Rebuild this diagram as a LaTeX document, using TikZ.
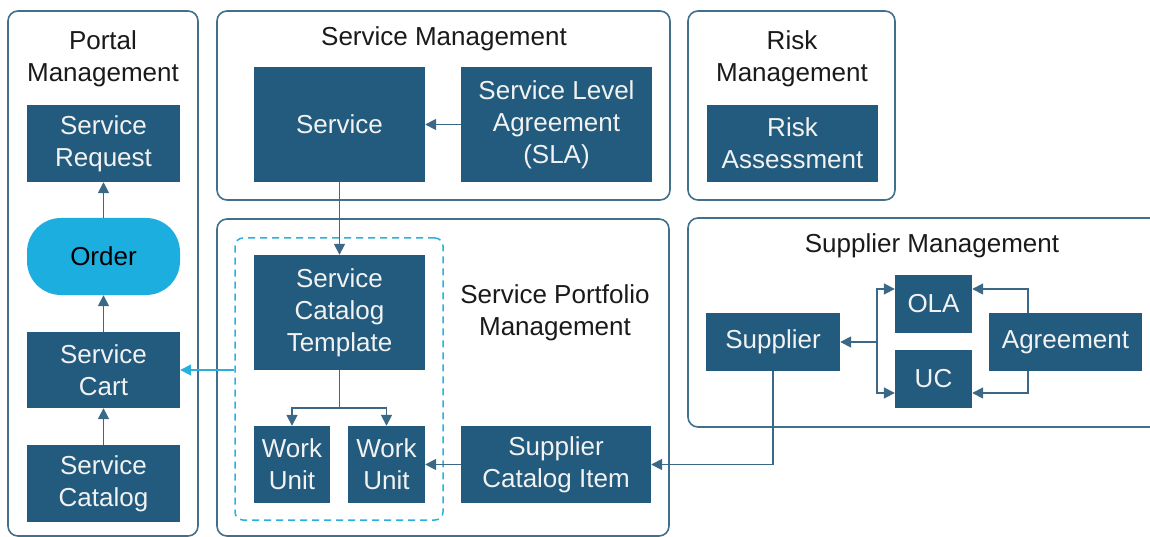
\documentclass[tikz,border=0pt]{standalone}
\usepackage{fontspec}
\setmainfont{Liberation Sans}
\usetikzlibrary{arrows.meta,calc}
\definecolor{boxblue}{HTML}{225B7D}
\definecolor{orderblue}{HTML}{1CAEDE}
\definecolor{contc}{HTML}{41708C}
\definecolor{arrc}{HTML}{3B6886}
\definecolor{dashc}{HTML}{2AB0E0}
\definecolor{titlec}{HTML}{1A1A1A}
\newcommand\dfont{\fontsize{26}{32}\selectfont}
\tikzset{
  box/.style={rectangle, fill=boxblue, text=white!95!black, inner sep=0pt, align=center, font=\dfont},
  ttl/.style={text=titlec, inner sep=0pt, align=center, font=\dfont},
  cont/.style={draw=contc, line width=1.6pt, rounded corners=10pt},
  arr/.style={draw=arrc, line width=1.7pt, -{Triangle[length=11pt,width=11pt]}},
  lblarr/.style={draw=dashc, line width=1.7pt, -{Triangle[length=11pt,width=11pt]}},
}
\begin{document}
\begin{tikzpicture}[x=1pt,y=-1pt]
\useasboundingbox (0,0) rectangle (1150,537);
\clip (0,0) rectangle (1150,537);
\fill[white] (0,0) rectangle (1150,537);
% containers
\draw[cont] (8,11) rectangle (198,536);
\draw[cont] (217,11) rectangle (670,200);
\draw[cont] (688,11) rectangle (895,200);
\draw[cont] (217,219) rectangle (669,536);
\draw[cont] (688,218) rectangle (1165,427);
% titles
\node[ttl] (tportal) at (103,59) {Portal\\Management};
\node[ttl] (tsm) at (444,39) {Service Management};
\node[ttl] (trm) at (792,59) {Risk\\Management};
\node[ttl] (tspm) at (555,313) {Service Portfolio\\Management};
\node[ttl] (tsupm) at (932,246) {Supplier Management};
% dashed group
\node[draw=dashc, line width=1.5pt, dash pattern=on 7pt off 5pt, rounded corners=8pt,
      minimum width=208pt, minimum height=282pt, inner sep=0pt] (grp) at (339,379) {};
% portal nodes
\node[box, minimum width=153pt, minimum height=77pt] (sr) at (103.5,143.5) {Service\\Request};
\node[box, fill=orderblue, text=black, rounded corners=34pt, minimum width=153pt, minimum height=77pt] (order) at (103.5,256.5) {Order};
\node[box, minimum width=153pt, minimum height=76pt] (cart) at (103.5,370) {Service\\Cart};
\node[box, minimum width=153pt, minimum height=77pt] (scat) at (103.5,483.5) {Service\\Catalog};
% service management
\node[box, minimum width=171pt, minimum height=115pt] (service) at (339.5,124.5) {Service};
\node[box, minimum width=191pt, minimum height=115pt] (sla) at (556.5,124.5) {Service Level\\Agreement\\(SLA)};
% risk
\node[box, minimum width=171pt, minimum height=77pt] (risk) at (792.5,143.5) {Risk\\Assessment};
% portfolio
\node[box, minimum width=171pt, minimum height=115pt] (tmpl) at (339.5,312.5) {Service\\Catalog\\Template};
\node[box, minimum width=76pt, minimum height=77pt] (wu1) at (292,464.5) {Work\\Unit};
\node[box, minimum width=77pt, minimum height=77pt] (wu2) at (386.5,464.5) {Work\\Unit};
\node[box, minimum width=190pt, minimum height=77pt] (sci) at (556,464.5) {Supplier\\Catalog Item};
% supplier management
\node[box, minimum width=134pt, minimum height=58pt] (sup) at (773,342) {Supplier};
\node[box, minimum width=77pt, minimum height=58pt] (ola) at (933.5,304) {OLA};
\node[box, minimum width=77pt, minimum height=58pt] (uc) at (933.5,379) {UC};
\node[box, minimum width=153pt, minimum height=58pt] (agr) at (1065.5,342) {Agreement};
% connectors
\coordinate (tj) at (339.5,408);
\coordinate (sj) at (877,342);
\draw[arr] (order.north) -- (sr.south);
\draw[arr] (cart.north) -- (order.south);
\draw[arr] (scat.north) -- (cart.south);
\draw[arr] (sla.west) -- (service.east);
\draw[arr] (service.south) -- (tmpl.north);
\draw[draw=arrc, line width=1.7pt] (tmpl.south) -- (tj);
\draw[arr] (tj) -| (wu1.north);
\draw[arr] (tj) -| (wu2.north);
\draw[arr] (sci.west) -- (wu2.east);
\draw[arr] (sup.south) |- (sci.east);
\draw[lblarr] (grp.west |- cart.east) -- (cart.east);
\draw[arr] (sj) -- (sup.east);
\draw[arr] (sj) |- ([yshift=15pt]ola.west);
\draw[arr] (sj) |- ([yshift=-14pt]uc.west);
\draw[arr] ([xshift=-37.5pt]agr.north) |- ([yshift=15pt]ola.east);
\draw[arr] ([xshift=-37.5pt]agr.south) |- ([yshift=-14pt]uc.east);
\end{tikzpicture}
\end{document}
